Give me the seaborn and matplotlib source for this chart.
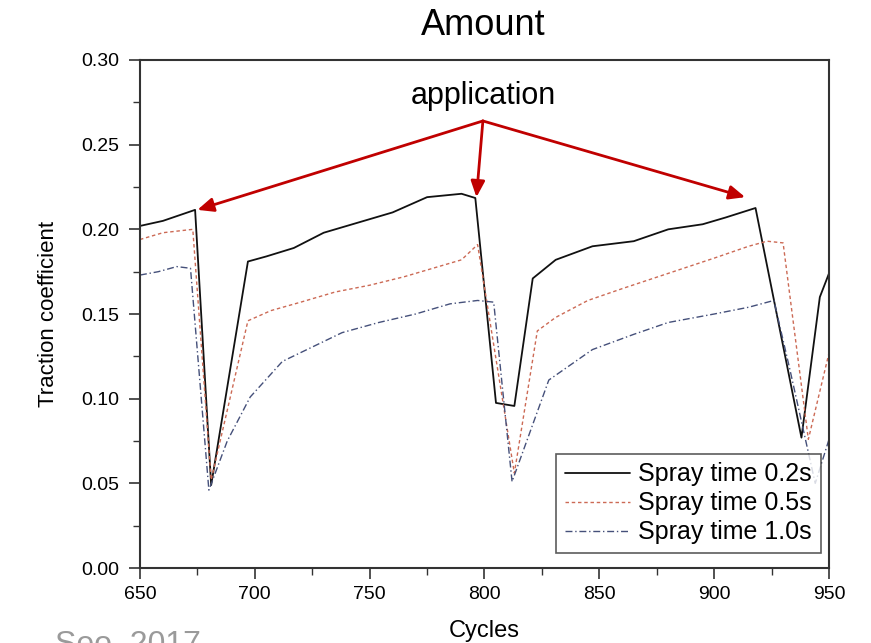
import matplotlib
matplotlib.use("Agg")
import matplotlib.pyplot as plt
import seaborn as sns
import pandas as pd

# Spray time 0.2 s
cycles_02 = [650, 660, 674, 681, 697, 705, 717, 730, 745, 760, 775, 790, 796,
             805, 813, 821, 831, 847, 865, 880, 895, 905, 918, 938, 946, 950]
traction_02 = [0.202, 0.205, 0.2115, 0.049, 0.181, 0.184, 0.189, 0.198, 0.204,
               0.210, 0.219, 0.221, 0.2185, 0.0975, 0.0957, 0.171, 0.182, 0.190,
               0.193, 0.200, 0.203, 0.207, 0.2126, 0.077, 0.160, 0.174]

# Spray time 0.5 s
cycles_05 = [650, 660, 673, 681, 697, 707, 720, 735, 750, 765, 780, 790, 797,
             813, 823, 831, 845, 860, 880, 900, 915, 923, 930, 941, 950]
traction_05 = [0.194, 0.198, 0.200, 0.052, 0.146, 0.152, 0.157, 0.163, 0.167,
               0.172, 0.178, 0.182, 0.191, 0.056, 0.140, 0.148, 0.158, 0.165,
               0.174, 0.183, 0.190, 0.193, 0.192, 0.076, 0.127]

# Spray time 1.0 s
cycles_10 = [650, 658, 666, 672, 680, 688, 698, 712, 738, 754, 770, 785, 797,
             804, 812, 828, 847, 865, 880, 900, 915, 926, 933, 944, 950]
traction_10 = [0.173, 0.175, 0.178, 0.177, 0.046, 0.075, 0.101, 0.122, 0.139,
               0.145, 0.150, 0.156, 0.158, 0.157, 0.051, 0.111, 0.129, 0.138,
               0.145, 0.150, 0.154, 0.158, 0.117, 0.050, 0.076]

series_labels = ["Spray time 0.2s", "Spray time 0.5s", "Spray time 1.0s"]

# arrow tips (cycle, traction) pointing at the application moments
arrow_x = [675, 796.5, 913.5]
arrow_y = [0.2115, 0.219, 0.219]

sns.set_theme(style="ticks")
plt.rcParams['font.family'] = ['Liberation Sans', 'DejaVu Sans']
plt.rcParams.update({'text.color': 'black', 'axes.labelcolor': 'black',
                     'xtick.color': 'black', 'ytick.color': 'black'})

fig = plt.figure(figsize=(8.71, 6.43), dpi=100)
ax = fig.add_axes([0.1607, 0.1166, 0.7911, 0.7901])

styles = [
    ("#111111", "-", 1.3),
    ("#cc6a55", (0, (2.5, 2)), 1.0),
    ("#45507a", (0, (5, 2, 1, 2)), 1.0),
]
all_series = [(cycles_02, traction_02), (cycles_05, traction_05), (cycles_10, traction_10)]
for (xs, ys), label, (color, ls, lw) in zip(all_series, series_labels, styles):
    df = pd.DataFrame({"Cycles": xs, "Traction": ys})
    sns.lineplot(data=df, x="Cycles", y="Traction", ax=ax, sort=False,
                 color=color, linestyle=ls, linewidth=lw, label=label)

ax.set_xlim(650, 950)
ax.set_ylim(0, 0.30)
ax.set_xticks([650, 700, 750, 800, 850, 900, 950])
ax.set_yticks([0.00, 0.05, 0.10, 0.15, 0.20, 0.25, 0.30])
ax.xaxis.set_minor_locator(matplotlib.ticker.MultipleLocator(25))
ax.yaxis.set_minor_locator(matplotlib.ticker.MultipleLocator(0.025))
ax.yaxis.set_major_formatter(matplotlib.ticker.FormatStrFormatter('%.2f'))
ax.tick_params(axis='x', labelsize=14, pad=5)
ax.tick_params(axis='y', labelsize=14, pad=7)
ax.tick_params(axis='both', which='major', direction='out', length=8, width=1.2, color='#333333')
ax.tick_params(axis='both', which='minor', direction='out', length=5, width=1.0, color='#333333')
for sp in ax.spines.values():
    sp.set_linewidth(1.5)
    sp.set_color('#333333')

ax.set_xlabel("Cycles", fontsize=17, labelpad=12)
ax.set_ylabel("Traction coefficient", fontsize=16, labelpad=16)

leg = ax.legend(loc="lower right", bbox_to_anchor=(0.988, 0.0295), fontsize=18,
                frameon=True, fancybox=False, edgecolor='#333333',
                handlelength=2.6, borderpad=0.35, labelspacing=0.2,
                handletextpad=0.35, borderaxespad=0)
leg.get_frame().set_linewidth(1.2)

# annotation arrows
origin = (799.3, 0.264)
for tx, ty in zip(arrow_x, arrow_y):
    ax.annotate("", xy=(tx, ty), xytext=origin,
                arrowprops=dict(arrowstyle="-|>,head_length=0.8,head_width=0.35",
                                color="#c00000", lw=2, shrinkA=0, shrinkB=0))
ax.text(799.3, 0.279, "application", ha="center", va="center", fontsize=22)

fig.text(0.555, 0.961, "Amount", ha="center", va="center", fontsize=26)
fig.text(0.063, -0.016, "Seo, 2017", ha="left", va="baseline", fontsize=23,
         color="#9a9a9a")

fig.savefig("out.png", dpi=100)
